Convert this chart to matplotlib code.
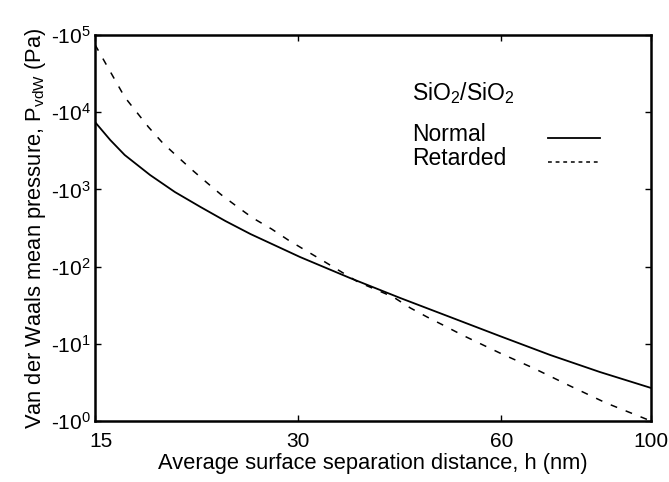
import matplotlib
matplotlib.use("Agg")
import matplotlib.pyplot as plt
import matplotlib.transforms as mtransforms
from matplotlib.lines import Line2D
from matplotlib.ticker import FixedLocator, FixedFormatter, NullLocator

plt.rcParams['font.family'] = ['Liberation Sans', 'DejaVu Sans']
plt.rcParams['mathtext.default'] = 'regular'

# Data (h in nm, |P| in Pa)
h_normal = [15.0, 15.8, 16.6, 18.1, 19.7, 21.5, 23.4, 25.5, 30.2, 35.8, 42.5, 50.4, 59.7, 70.9, 84.0, 100.0]
p_normal = [7460, 4365, 2790, 1537, 925, 592, 390, 264, 133, 71.2, 39.2, 22.2, 12.6, 7.16, 4.31, 2.68]

h_retarded = [15.0, 15.6, 16.6, 18.0, 18.9, 19.9, 20.9, 22.0, 23.1, 24.4, 25.7, 27.4,
              29.0, 30.7, 32.5, 34.4, 36.8, 41.5, 44.0, 46.6, 49.5, 52.5, 59.7, 66.9,
              75.9, 85.8, 100.0]
p_retarded = [75000, 40900, 15700, 6430, 3990, 2630, 1783, 1211, 846, 592, 426, 307,
              221, 164, 122, 90.3, 63.2, 40.4, 29.1, 22.2, 17.0, 13.0, 7.60, 4.86,
              2.84, 1.71, 1.0]

series_labels = ['Normal', 'Retarded']
legend_title = 'SiO$_2$/SiO$_2$'

x_ticks = [15, 30, 60, 100]
x_ticklabels = ['15', '30', '60', '100']
y_ticks = [1, 10, 100, 1000, 10000, 100000]
y_ticklabels = ['-10$^{0}$', '-10$^{1}$', '-10$^{2}$', '-10$^{3}$', '-10$^{4}$', '-10$^{5}$']

fig = plt.figure(figsize=(6.69, 4.82), dpi=100)
ax = fig.add_axes([95/669, 1-421/482, 556/669, 386/482])

ax.plot(h_normal, p_normal, color='black', lw=1.3)
ax.plot(h_retarded, p_retarded, color='black', lw=1.1, linestyle=(0, (4.5, 6)))

ax.set_xscale('log')
ax.set_yscale('log')
ax.set_xlim(15, 100)
ax.set_ylim(1, 1e5)

ax.xaxis.set_major_locator(FixedLocator(x_ticks))
ax.xaxis.set_major_formatter(FixedFormatter(x_ticklabels))
ax.xaxis.set_minor_locator(NullLocator())
ax.yaxis.set_major_locator(FixedLocator(y_ticks))
ax.yaxis.set_major_formatter(FixedFormatter(y_ticklabels))
ax.yaxis.set_minor_locator(NullLocator())

ax.tick_params(direction='in', length=4, width=1, top=True, right=True, labelsize=15)
ax.tick_params(axis='y', pad=3)
ax.tick_params(axis='x', pad=8)
for s in ax.spines.values():
    s.set_linewidth(1.8)

ax.set_xlabel('Average surface separation distance, h (nm)', fontsize=15.75, labelpad=1)
ax.set_ylabel('Van der Waals mean pressure, P$_{vdW}$ (Pa)', fontsize=15.75, labelpad=2)

# nudge the first x tick label to the right, as in the original
fig.canvas.draw()
first = ax.get_xticklabels()[0]
first.set_transform(first.get_transform() + mtransforms.ScaledTranslation(6/100, 0, fig.dpi_scale_trans))

# Legend drawn in the style of the original (labels left, samples right)
ax.text(0.570, 0.850, legend_title, transform=ax.transAxes, fontsize=16.5, va='center', ha='left')
ax.text(0.570, 0.741, series_labels[0], transform=ax.transAxes, fontsize=16.5, va='center', ha='left')
ax.text(0.570, 0.681, series_labels[1], transform=ax.transAxes, fontsize=16.5, va='center', ha='left')
ax.add_line(Line2D([0.815, 0.908], [0.733, 0.733], transform=ax.transAxes, color='black', lw=1.3))
ax.add_line(Line2D([0.815, 0.908], [0.671, 0.671], transform=ax.transAxes, color='black', lw=1.1,
                   linestyle=(0, (2.5, 2.5))))

fig.savefig('out.png', dpi=100)
